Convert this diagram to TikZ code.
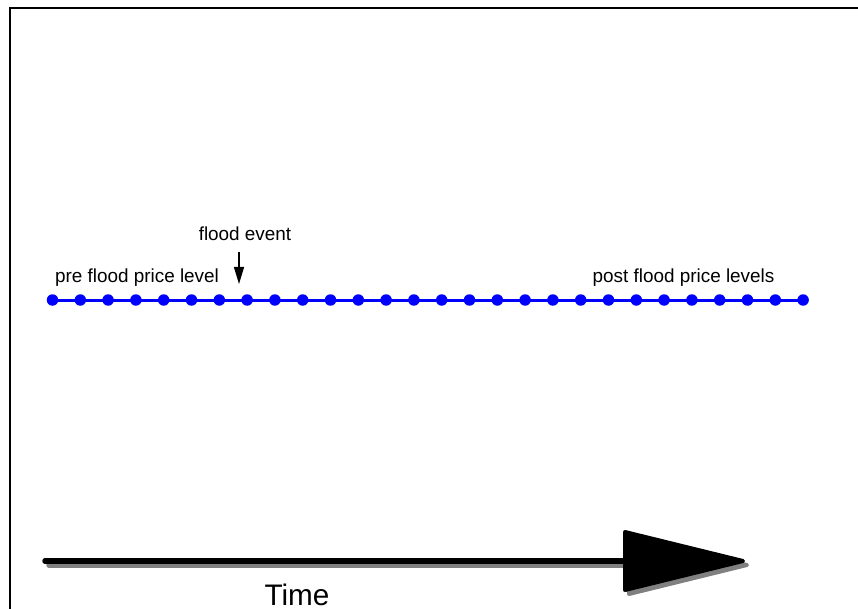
\documentclass[tikz,border=0pt]{standalone}
\usepackage{fontspec}
\setmainfont{Liberation Sans}
\usetikzlibrary{positioning,calc,arrows.meta}
\tikzset{
    pricedot/.style={circle,fill=blue,inner sep=0pt,minimum size=11.5pt},
    lbl/.style={font=\fontsize{18.9}{22}\selectfont,anchor=base,inner sep=0pt},
    timeline/.style={line width=5.5pt,line cap=round},
    timehead/.style={line width=4pt,line join=round},
}
\begin{document}
\begin{tikzpicture}[x=1pt,y=-1pt]
    \useasboundingbox (0,0) rectangle (858,609);

    % frame
    \draw[line width=2pt] (10,700) -- (10,8) -- (900,8);

    % price levels
    \foreach \i in {0,...,27}
        \node[pricedot] (d\i) at ({52.5+27.8*\i},300) {};
    \draw[blue,line width=3pt] (d0.center) -- (d27.center);

    \node[lbl] (pre) at (137,282) {pre flood price level};
    \node[lbl] (post) at (683.5,282) {post flood price levels};
    \node[lbl] (flood) at (245,241) {flood event};

    % flood event arrow
    \coordinate (fltop) at (239,252);
    \coordinate (fltip) at (239,284);
    \draw[line width=1.2pt,-{Triangle[length=17pt,width=10pt]}] (fltop) -- (fltip);

    % Time arrow
    \coordinate (tstart) at (45,561);
    \coordinate (tbase) at (626,561);
    \coordinate (ttop) at (625,532);
    \coordinate (tbot) at (625,590);
    \coordinate (ttip) at (743,561);

    % shadow
    \draw[timeline,gray] ($(tstart)+(4,4)$) -- ($(tbase)+(4,4)$);
    \filldraw[timehead,gray] ($(ttop)+(4,4)$) -- ($(ttip)+(4,4)$) -- ($(tbot)+(4,4)$) -- cycle;

    \draw[timeline] (tstart) -- (tbase);
    \filldraw[timehead] (ttop) -- (ttip) -- (tbot) -- cycle;

    \node[anchor=base,inner sep=0pt,font=\fontsize{29.7}{34}\selectfont] (time) at (297,605) {Time};

\end{tikzpicture}
\end{document}
